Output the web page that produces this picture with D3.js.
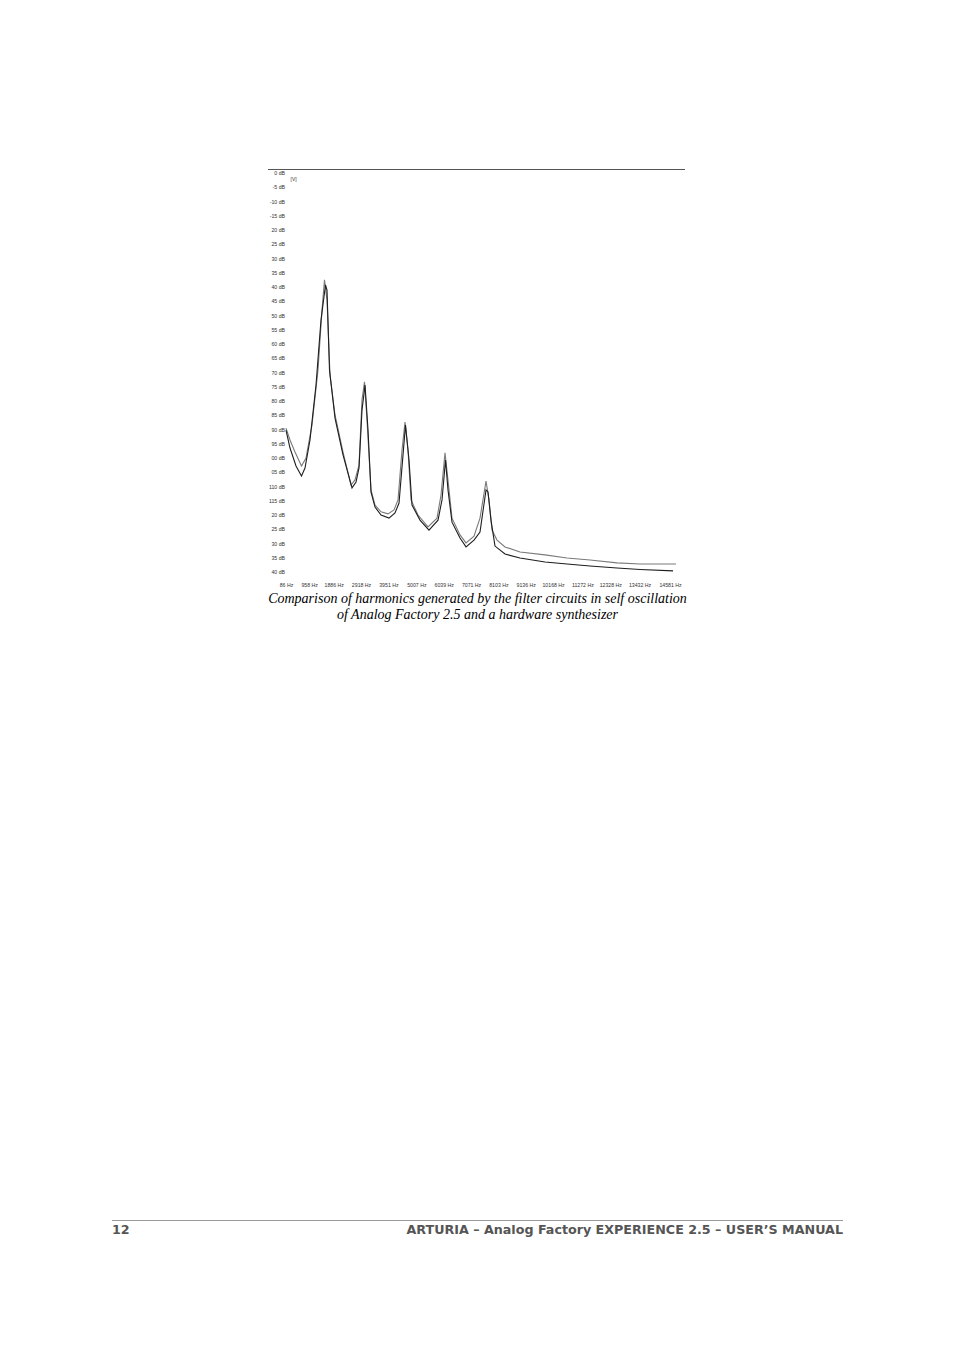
<!DOCTYPE html>
<html>
<head>
<meta charset="utf-8">
<script src="https://cdn.jsdelivr.net/npm/d3@7/dist/d3.min.js"></script>
<style>
  html, body { margin: 0; padding: 0; background: #fff; }
  svg { display: block; }
</style>
</head>
<body>
<svg id="chart" width="954" height="1351"></svg>
<script>
// ---- data ----
const yTickLabels = ["0 dB","-5 dB","-10 dB","-15 dB","20 dB","25 dB","30 dB","35 dB","40 dB","45 dB",
  "50 dB","55 dB","60 dB","65 dB","70 dB","75 dB","80 dB","85 dB","90 dB","95 dB",
  "00 dB","05 dB","110 dB","115 dB","20 dB","25 dB","30 dB","35 dB","40 dB"];
const yTickValues = d3.range(0, 141, 5); // attenuation in dB (0 at top)
const xTickValues = [86, 958, 1886, 2918, 3951, 5007, 6039, 7071, 8103, 9136, 10168, 11272, 12328, 13432, 14581];
const xTickLabels = xTickValues.map(v => v + " Hz");

// upper curve (software)
const seriesAHz = [86,237,426,671,841,1068,1294,1445,1539,1634,1747,1936,2238,2540,2691,2842,2955,3049,3144,3295,3446,3672,3937,4163,4314,4465,4578,4691,4805,5069,5446,5786,5937,6088,6201,6352,6654,6881,7183,7409,7636,7749,7862,8051,8353,8919,9863,10694,11562,12581,13450,14809];
const seriesAdB = [89.5,93.7,97.9,102.8,100.0,88.4,69.1,48.1,37.5,44.6,70.9,84.9,97.9,109.5,107.7,102.5,79.6,73.3,86.7,111.2,116.5,118.9,119.6,118.2,114.7,97.2,87.4,97.2,114.7,120.0,124.2,121.1,113.0,98.2,107.7,121.1,127.0,129.8,127.4,121.1,108.1,114.7,125.3,128.8,131.2,133.0,134.0,135.1,135.8,136.8,137.2,137.2];
// lower curve (hardware)
const seriesBHz = [86,237,464,671,803,992,1219,1407,1577,1634,1728,1936,2238,2578,2729,2842,2955,3069,3182,3295,3446,3672,3974,4201,4352,4503,4597,4729,4842,5144,5484,5824,5975,6107,6201,6352,6654,6881,7183,7409,7636,7711,7824,7975,8353,8919,9863,10694,11562,12581,13450,14696];
const seriesBdB = [90.2,96.5,102.8,106.3,103.5,93.7,74.4,51.6,39.3,41.1,69.1,86.0,98.9,110.5,108.4,103.5,83.2,74.4,90.2,112.0,117.2,120.0,121.1,119.3,115.8,98.9,88.4,100.7,116.5,121.8,125.3,121.8,114.7,100.7,111.2,122.5,128.1,131.2,128.8,126.0,111.2,111.9,121.8,130.9,133.7,135.1,136.5,137.2,137.9,138.6,139.1,139.6];

const caption = ["Comparison of harmonics generated by the filter circuits in self oscillation",
                 "of Analog Factory 2.5 and a hardware synthesizer"];
const footerLeft = "12";
const footerRight = "ARTURIA \u2013 Analog Factory EXPERIENCE 2.5 \u2013 USER\u2019S MANUAL";

// ---- drawing ----
const svg = d3.select("#chart");
const x = d3.scaleLinear().domain([86, 14581]).range([286, 670]);
const y = d3.scaleLinear().domain([0, 140]).range([173, 572]);

// top frame line
svg.append("line").attr("x1", 268).attr("x2", 685).attr("y1", 169.5).attr("y2", 169.5)
  .attr("stroke", "#555").attr("stroke-width", 1);

// y labels
const yAxis = d3.axisLeft(y).tickValues(yTickValues).tickSize(0).tickPadding(0)
  .tickFormat((d, i) => yTickLabels[i]);
const gy = svg.append("g").attr("transform", "translate(285,0)").call(yAxis);
gy.select(".domain").remove();
gy.selectAll("text").attr("font-family", "Liberation Sans, Arial, sans-serif")
  .attr("font-size", 5.2).attr("fill", "#333").attr("dy", "0.32em");

svg.append("text").attr("x", 290.5).attr("y", 181).text("[V]")
  .attr("font-family", "Liberation Sans, Arial, sans-serif").attr("font-size", 5).attr("fill", "#333");

// x labels
const xAxis = d3.axisBottom(x).tickValues(xTickValues).tickSize(0).tickPadding(0)
  .tickFormat((d, i) => xTickLabels[i]);
const gx = svg.append("g").attr("transform", "translate(0,583.5)").call(xAxis);
gx.select(".domain").remove();
gx.selectAll("text").attr("font-family", "Liberation Sans, Arial, sans-serif")
  .attr("font-size", 5.2).attr("fill", "#333").attr("dy", "0.71em");

// curves
const line = d3.line().x(d => x(d[0])).y(d => y(d[1]));
const dataA = seriesAHz.map((h, i) => [h, seriesAdB[i]]);
const dataB = seriesBHz.map((h, i) => [h, seriesBdB[i]]);
svg.append("path").datum(dataA).attr("d", line).attr("fill", "none")
  .attr("stroke", "#7a7a7a").attr("stroke-width", 1.1);
svg.append("path").datum(dataB).attr("d", line).attr("fill", "none")
  .attr("stroke", "#1e1e1e").attr("stroke-width", 1.1);

// caption
svg.selectAll("text.cap").data(caption).enter().append("text").attr("class", "cap")
  .attr("x", 477.5).attr("y", (d, i) => 603 + i * 15.5).attr("text-anchor", "middle")
  .attr("font-family", "Liberation Serif, Times New Roman, serif").attr("font-style", "italic")
  .attr("font-size", 14).attr("fill", "#000").text(d => d);

// footer
svg.append("line").attr("x1", 112).attr("x2", 843).attr("y1", 1220.5).attr("y2", 1220.5)
  .attr("stroke", "#999").attr("stroke-width", 1);
svg.append("text").attr("x", 112).attr("y", 1234).text(footerLeft)
  .attr("font-family", "DejaVu Sans, Verdana, sans-serif").attr("font-weight", "bold")
  .attr("font-size", 12.7).attr("fill", "#555");
svg.append("text").attr("x", 843).attr("y", 1234).attr("text-anchor", "end").text(footerRight)
  .attr("font-family", "DejaVu Sans, Verdana, sans-serif").attr("font-weight", "bold")
  .attr("font-size", 12.7).attr("fill", "#555");
</script>
</body>
</html>
